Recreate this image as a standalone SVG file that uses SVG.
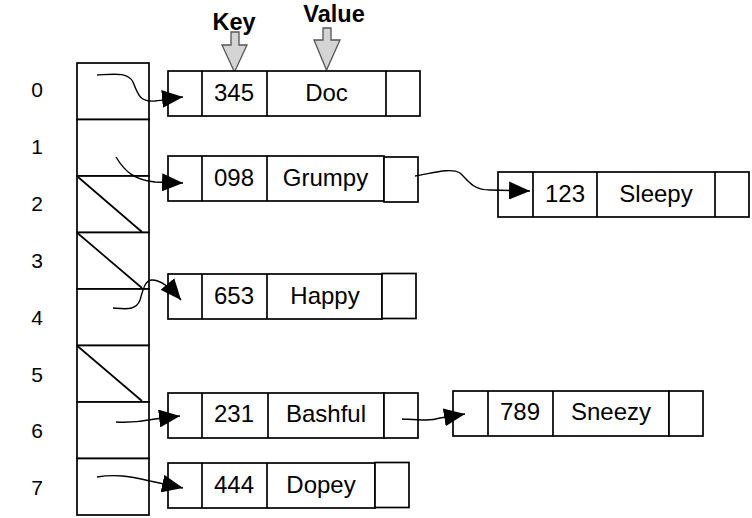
<svg xmlns="http://www.w3.org/2000/svg" width="752" height="518" viewBox="0 0 752 518">
<style>
.box{fill:#fff;stroke:#000;stroke-width:1.7}
.ln{fill:none;stroke:#000;stroke-width:1.7}
.t{font-family:"Liberation Sans",Arial,sans-serif;font-size:24px;text-anchor:middle;fill:#000}
.idx{font-family:"Liberation Sans",Arial,sans-serif;font-size:21px;text-anchor:middle;fill:#000}
.hdr{font-family:"Liberation Sans",Arial,sans-serif;font-size:23.5px;font-weight:bold;text-anchor:middle;fill:#000}
.conn{fill:none;stroke:#000;stroke-width:1.4}
.garrow{fill:#d4d4d4;stroke:#555;stroke-width:1.3}
</style>
<defs>
<marker id="ah" viewBox="0 0 21 18" refX="21" refY="9" markerWidth="21" markerHeight="18" markerUnits="userSpaceOnUse" orient="auto">
<path d="M0,0 L21,9 L0,18 z" fill="#000"/>
</marker>
</defs>
<rect width="752" height="518" fill="#fff"/>

<g id="headers">
<text class="hdr" x="234" y="30">Key</text>
<text class="hdr" x="334" y="22">Value</text>
<polygon class="garrow" points="231,32 239,32 239,45 247,45 234.5,72 222,45 231,45"/>
<polygon class="garrow" points="323,28 331,28 331,40 340,40 326.5,70 314,40 323,40"/>
</g>

<g id="indices">
<text class="idx" x="37" y="97">0</text>
<text class="idx" x="37" y="154">1</text>
<text class="idx" x="37" y="211">2</text>
<text class="idx" x="37" y="268">3</text>
<text class="idx" x="37" y="325">4</text>
<text class="idx" x="37" y="382">5</text>
<text class="idx" x="37" y="438">6</text>
<text class="idx" x="37" y="495">7</text>
</g>

<g id="array">
<rect class="box" x="77" y="63" width="72" height="56.5"/>
<rect class="box" x="77" y="119.5" width="72" height="56.5"/>
<rect class="box" x="77" y="176" width="72" height="56.5"/>
<rect class="box" x="77" y="232.5" width="72" height="56.5"/>
<rect class="box" x="77" y="289" width="72" height="56.5"/>
<rect class="box" x="77" y="345.5" width="72" height="56.5"/>
<rect class="box" x="77" y="402" width="72" height="56.5"/>
<rect class="box" x="77" y="458.5" width="72" height="56.5"/>
<line class="ln" x1="78" y1="177" x2="142" y2="232"/>
<line class="ln" x1="78" y1="233.5" x2="142" y2="288"/>
<line class="ln" x1="78" y1="346.5" x2="142" y2="401"/>
</g>

<g id="node-doc">
<rect class="box" x="168" y="71" width="252" height="45"/>
<line class="ln" x1="202" y1="71" x2="202" y2="116"/>
<line class="ln" x1="267" y1="71" x2="267" y2="116"/>
<line class="ln" x1="386" y1="71" x2="386" y2="116"/>
<text class="t" x="234" y="101">345</text>
<text class="t" x="326.5" y="101">Doc</text>
</g>

<g id="node-grumpy">
<rect class="box" x="168" y="156" width="216" height="45"/>
<rect class="box" x="384" y="157" width="34" height="45"/>
<line class="ln" x1="202" y1="156" x2="202" y2="201"/>
<line class="ln" x1="267" y1="156" x2="267" y2="201"/>
<text class="t" x="234" y="186">098</text>
<text class="t" x="325.5" y="186">Grumpy</text>
</g>

<g id="node-sleepy">
<rect class="box" x="498" y="172" width="251" height="45"/>
<line class="ln" x1="533" y1="172" x2="533" y2="217"/>
<line class="ln" x1="597" y1="172" x2="597" y2="217"/>
<line class="ln" x1="715" y1="172" x2="715" y2="217"/>
<text class="t" x="565" y="202">123</text>
<text class="t" x="656" y="202">Sleepy</text>
</g>

<g id="node-happy">
<rect class="box" x="168" y="274" width="214" height="45"/>
<rect class="box" x="382" y="273.5" width="34" height="45"/>
<line class="ln" x1="202" y1="274" x2="202" y2="319"/>
<line class="ln" x1="267" y1="274" x2="267" y2="319"/>
<text class="t" x="234" y="304">653</text>
<text class="t" x="325" y="304">Happy</text>
</g>

<g id="node-bashful">
<rect class="box" x="168" y="393" width="216" height="45"/>
<rect class="box" x="384" y="393" width="34" height="45"/>
<line class="ln" x1="202" y1="393" x2="202" y2="438"/>
<line class="ln" x1="268" y1="393" x2="268" y2="438"/>
<text class="t" x="234" y="422">231</text>
<text class="t" x="326" y="422">Bashful</text>
</g>

<g id="node-sneezy">
<rect class="box" x="453" y="391" width="216" height="45"/>
<rect class="box" x="669" y="391" width="34" height="45"/>
<line class="ln" x1="488" y1="391" x2="488" y2="436"/>
<line class="ln" x1="553" y1="391" x2="553" y2="436"/>
<text class="t" x="520" y="420">789</text>
<text class="t" x="611" y="420">Sneezy</text>
</g>

<g id="node-dopey">
<rect class="box" x="168" y="463" width="207" height="45"/>
<rect class="box" x="375" y="462.5" width="34" height="45"/>
<line class="ln" x1="202" y1="463" x2="202" y2="508"/>
<line class="ln" x1="267" y1="463" x2="267" y2="508"/>
<text class="t" x="234" y="493">444</text>
<text class="t" x="321" y="493">Dopey</text>
</g>

<g id="connectors">
<path class="conn" marker-end="url(#ah)" d="M97,75 C115,74 128,72 133,82 C138,95 140,102 155,101 C165,100 172,98 183,97"/>
<path class="conn" marker-end="url(#ah)" d="M116,157 C125,172 135,180 155,182 L183,183"/>
<path class="conn" marker-end="url(#ah)" d="M415,176 C430,174 450,167 460,173 C468,180 472,190 490,190 L530,191"/>
<path class="conn" marker-end="url(#ah)" d="M113,308 C125,309 136,311 140,300 C143,290 145,280 152,280 C160,280 170,287 181,300"/>
<path class="conn" marker-end="url(#ah)" d="M116,422 C135,423 145,421 155,419 L180,416"/>
<path class="conn" marker-end="url(#ah)" d="M402,419 C420,420 430,421 440,418 L465,414"/>
<path class="conn" marker-end="url(#ah)" d="M97,477 C115,474 130,476 150,481 L183,488"/>
</g>
</svg>
